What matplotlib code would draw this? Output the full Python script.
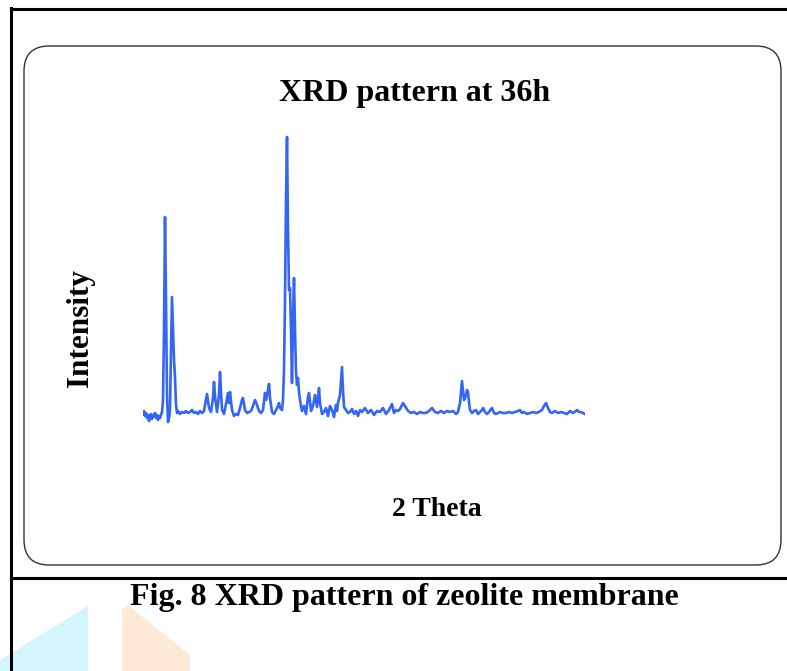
import matplotlib
matplotlib.use('Agg')
import matplotlib.pyplot as plt
from matplotlib.patches import FancyBboxPatch, Polygon
from matplotlib.lines import Line2D

# XRD pattern (2 theta in degrees, intensity in counts)
two_theta = [5.0, 5.1, 5.2, 5.3, 5.4, 5.5, 5.6, 5.7, 5.8, 5.9, 6.0, 6.1, 6.2, 6.3, 6.4, 6.5, 6.6, 6.7, 6.8, 6.9,
             7.0, 7.1, 7.2, 7.3, 7.4, 7.5, 7.6, 7.7, 7.8, 7.9, 8.0, 8.1, 8.2, 8.3, 8.4,
             8.5, 8.7, 8.9, 9.1, 9.3, 9.5, 9.7, 9.9, 10.1, 10.3, 10.5, 10.7, 10.9, 11.1, 11.2, 11.4, 11.6, 11.8,
             12.0, 12.1, 12.2, 12.4, 12.6, 12.7, 12.8, 12.9, 13.1, 13.3, 13.5, 13.6, 13.7, 13.9, 14.1, 14.3,
             14.5, 14.7, 14.9, 15.0, 15.2, 15.4, 15.6, 15.8, 16.0, 16.2, 16.4, 16.6, 16.8, 17.0, 17.2, 17.3,
             17.5, 17.6, 17.7, 17.9, 18.1, 18.3, 18.5, 18.6, 18.7, 18.9, 19.0, 19.1, 19.2, 19.3, 19.4, 19.5,
             19.6, 19.7, 19.8, 19.9, 20.0, 20.1, 20.2, 20.3, 20.4, 20.5, 20.6, 20.7, 20.9, 21.1, 21.3, 21.5,
             21.6, 21.7, 21.8, 22.0, 22.2, 22.4, 22.6, 22.7, 22.9, 23.1, 23.3, 23.5, 23.7, 23.9, 24.1, 24.3,
             24.4, 24.5, 24.7, 24.9, 25.0, 25.1, 25.3, 25.5, 25.7, 25.9, 26.1, 26.3, 26.5, 26.7, 26.9, 27.2,
             27.5, 27.8, 28.1, 28.4, 28.7, 29.0, 29.3, 29.6, 29.9, 30.1, 30.3, 30.5, 30.7, 31.0, 31.2, 31.5,
             31.8, 32.1, 32.4, 32.7, 33.0, 33.3, 33.6, 33.9, 34.2, 34.5, 34.8, 35.1, 35.4, 35.7, 36.0, 36.3,
             36.5, 36.7, 36.8, 36.9, 37.0, 37.1, 37.2, 37.3, 37.4, 37.5, 37.6, 37.7, 37.9, 38.1, 38.3, 38.5,
             38.7, 38.9, 39.0, 39.2, 39.4, 39.6, 39.8, 39.9, 40.1, 40.3, 40.5, 40.7, 41.0, 41.3, 41.6, 41.9,
             42.2, 42.5, 42.7, 42.9, 43.1, 43.4, 43.7, 44.0, 44.3, 44.6, 44.9, 45.1, 45.3, 45.5, 45.7, 45.9,
             46.2, 46.5, 46.8, 47.1, 47.4, 47.7, 48.0, 48.3, 48.4, 48.6, 48.8, 49.0, 49.2]
intensity = [90, 120, 70, 100, 50, 80, 20, 60, 90, 40, 80, 70, 100, 50, 80, 30, 70, 50, 80, 110,
             230, 930, 2060, 1230, 280, 10, 50, 130, 730, 1260, 930, 630, 460, 180, 100,
             120, 90, 110, 100, 120, 100, 110, 130, 100, 110, 90, 120, 100, 120, 180, 290, 150, 110,
             250, 410, 270, 110, 280, 510, 330, 130, 90, 190, 300, 200, 310, 130, 70, 90,
             80, 150, 230, 250, 130, 100, 110, 120, 170, 230, 180, 120, 100, 130, 300, 230,
             330, 390, 250, 110, 90, 130, 170, 200, 150, 130, 230, 530, 1230, 2230, 2860, 1930,
             1330, 1350, 930, 400, 1030, 1450, 930, 510, 380, 450, 310, 230, 120, 170, 90, 260,
             300, 220, 120, 170, 280, 160, 350, 200, 90, 110, 150, 70, 170, 130, 60, 180,
             120, 200, 280, 560, 330, 160, 130, 100, 110, 140, 90, 120, 70, 130, 110, 150,
             100, 130, 80, 120, 110, 150, 90, 130, 190, 100, 130, 120, 140, 200, 170, 120,
             100, 110, 90, 110, 100, 100, 120, 150, 110, 100, 120, 100, 120, 110, 120, 90,
             110, 200, 310, 420, 330, 230, 250, 280, 330, 310, 210, 130, 100, 120, 130, 90,
             110, 130, 150, 110, 90, 110, 140, 150, 100, 90, 100, 110, 100, 100, 110, 100,
             110, 120, 130, 100, 110, 90, 100, 110, 100, 110, 130, 170, 200, 150, 110, 100,
             120, 100, 110, 100, 90, 120, 100, 120, 130, 110, 110, 100, 90]

W, H = 787, 671
fig = plt.figure(figsize=(W / 100, H / 100), dpi=100)
serif = ['Liberation Serif', 'DejaVu Serif']

def fx(px):
    return px / W

def fy(py):
    return 1 - py / H

# faint watermark shapes at the bottom
fig.patches.append(Polygon([(fx(0), fy(660)), (fx(88), fy(606)), (fx(88), fy(671)), (fx(0), fy(671))],
                           closed=True, transform=fig.transFigure, facecolor='#d2f6fc',
                           edgecolor='none', zorder=0))
fig.patches.append(Polygon([(fx(122), fy(610)), (fx(128), fy(605)), (fx(190), fy(655)), (fx(190), fy(671)),
                            (fx(122), fy(671))],
                           closed=True, transform=fig.transFigure, facecolor='#fde9d6',
                           edgecolor='none', zorder=0))

# outer frame lines
for xs, ys in [([11, 11], [8, 671]), ([11, 787], [9, 9]), ([11, 787], [578, 578])]:
    fig.add_artist(Line2D([fx(x) for x in xs], [fy(y) for y in ys], color='black', lw=2.2,
                          transform=fig.transFigure))

# rounded box around the chart
box = FancyBboxPatch((fx(24), fy(565)), fx(781) - fx(24), fy(46) - fy(565),
                     boxstyle='round,pad=0,rounding_size=0.032', transform=fig.transFigure,
                     facecolor='none', edgecolor='#333333', lw=1.0, mutation_aspect=W / H)
fig.patches.append(box)

ax = fig.add_axes([fx(143), fy(430), fx(585) - fx(143), fy(130) - fy(430)])
ax.plot(two_theta, intensity, color='#3565f5', lw=1.9)
ax.set_xlim(5.0, 49.2)
ax.set_ylim(-70, 2930)
ax.axis('off')

fig.text(fx(415), fy(94), 'XRD pattern at 36h', ha='center', va='center', fontsize=23,
         fontweight='bold', family=serif)
fig.text(fx(80), fy(328), 'Intensity', ha='center', va='center', rotation=90, fontsize=22.5,
         fontweight='bold', family=serif)
fig.text(fx(437), fy(509), '2 Theta', ha='center', va='center', fontsize=20,
         fontweight='bold', family=serif)
fig.text(fx(404), fy(597), 'Fig. 8 XRD pattern of zeolite membrane', ha='center', va='center',
         fontsize=23, fontweight='bold', family=serif)

fig.savefig('out.png', dpi=100)
